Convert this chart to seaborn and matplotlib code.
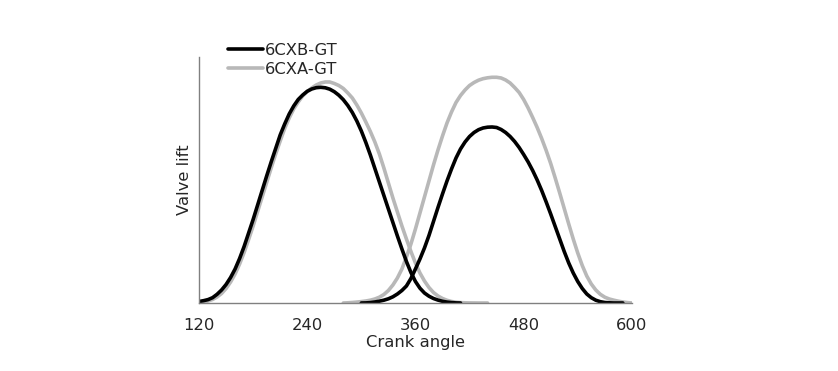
import matplotlib
matplotlib.use("Agg")
import matplotlib.pyplot as plt
from matplotlib.lines import Line2D
import seaborn as sns
import pandas as pd

# ---- data (every 5 degrees) ----
b_exh_angle = list(range(120, 415, 5))
b_exh_lift = [1.5, 2.3, 3.4, 5.3, 8.7, 13, 18.5, 25.5, 34, 44.5, 56.5, 70, 83.5, 98, 112.5, 127, 141,
              154.5, 168, 179, 189, 197, 203.5, 208, 211.7, 214, 215.3, 215.7, 215.2, 213.8, 211.3,
              207.8, 203.3, 197.5, 190.5, 182, 172, 160.5, 148, 134.5, 121, 107.5, 94, 80.5, 67, 54,
              41.5, 30.5, 21.5, 14.8, 10, 6.8, 4.5, 2.9, 1.7, 0.9, 0.4, 0.1, 0]

g_exh_angle = list(range(120, 445, 5))
g_exh_lift = [0.5, 1, 2, 3.5, 6, 9.5, 14.5, 21, 29, 39, 50.5, 63.5, 77, 91.5, 106, 120.5, 135, 149,
              162, 174.5, 185, 194, 201, 207, 211.5, 215, 218, 220, 221, 221, 219.5, 217.5, 214.5,
              210, 205, 198, 190, 181, 171.5, 161, 149, 135, 120, 105, 91, 77, 64, 51.5, 40,
              30, 22, 15.5, 10.5, 7, 4.5, 2.7, 1.5, 0.8, 0.4, 0.2, 0.1, 0.05, 0, 0, 0]

b_int_angle = list(range(300, 595, 5))
b_int_lift = [0, 0.1, 0.4, 1, 1.8, 2.8, 4.2, 6.2, 9, 12.5, 17, 24.5, 34, 44, 55, 67.5, 81.5, 95.5,
              109, 122, 134, 145, 154, 161, 166.5, 170.5, 173.3, 175, 175.8, 176, 175.5, 173.5, 170.5,
              166.5, 161.5, 155.5, 148.5, 141, 132.5, 123, 112.5, 101, 89, 76.5, 64, 51.5, 40, 30,
              21.5, 14.5, 9, 5.3, 2.8, 1.3, 0.5, 0.2, 0, 0, 0]

g_int_angle = list(range(280, 605, 5))
g_int_lift = [0, 0.2, 0.5, 0.9, 1.4, 2, 2.8, 4, 5.8, 8.5, 12.5, 18, 25, 34, 46, 59, 74, 90, 106, 122,
              138, 153, 167, 180, 191, 200.5, 207.5, 213, 217.5, 220.5, 222.8, 224.3, 225.2, 225.7,
              225.7, 225, 223, 220, 215.5, 210.5, 203.5, 195, 185.5, 175.5, 164.5, 152.5, 139.5, 125,
              110, 94.5, 79, 64, 50, 37.5, 27, 19, 13, 8.7, 5.8, 4, 2.8, 1.8, 1, 0.4, 0]

series_names = ["6CXB-GT", "6CXA-GT"]
x_ticks = [120, 240, 360, 480, 600]

frames = []
for name, valve, a, l in [
    (series_names[0], "exh", b_exh_angle, b_exh_lift),
    (series_names[1], "exh", g_exh_angle, g_exh_lift),
    (series_names[0], "int", b_int_angle, b_int_lift),
    (series_names[1], "int", g_int_angle, g_int_lift),
]:
    frames.append(pd.DataFrame({"angle": a, "lift": l, "engine": name, "valve": valve}))
df = pd.concat(frames, ignore_index=True)

sns.set_style("white")
plt.rcParams["font.family"] = ["DejaVu Sans"]

colors = {series_names[0]: "#000000", series_names[1]: "#b8b8b8"}

fig = plt.figure(figsize=(8.38, 3.71), dpi=100)
ax = fig.add_axes([0.2375, 0.1833, 0.5165, 0.6631])

order = [series_names[1], series_names[0]]
for name in order:
    sub = df[df["engine"] == name]
    sns.lineplot(data=sub, x="angle", y="lift", units="valve", estimator=None,
                 color=colors[name], linewidth=2.6, ax=ax, legend=False, sort=False)
for line in ax.get_lines():
    line.set_solid_joinstyle("round")

ax.set_xlim(120, 600)
ax.set_ylim(0, 246)
ax.set_xticks(x_ticks)
ax.set_xticklabels([str(t) for t in x_ticks], fontsize=11.8)
ax.set_yticks([])
ax.tick_params(axis="x", direction="in", length=4, color="#808080", pad=11)
for s in ["top", "right"]:
    ax.spines[s].set_visible(False)
for s in ["left", "bottom"]:
    ax.spines[s].set_color("#808080")
    ax.spines[s].set_linewidth(1.0)

ax.set_xlabel("Crank angle", fontsize=11.8, labelpad=1)
ax.set_ylabel("Valve lift", fontsize=11.8, labelpad=5)

handles = [Line2D([0], [0], color=colors[n], linewidth=2.6) for n in series_names]
fig.legend(handles, series_names, loc="upper left", bbox_to_anchor=(0.2645, 0.902),
           frameon=False, fontsize=11.8, handlelength=2.15, handletextpad=0.1,
           labelspacing=0.22, borderaxespad=0)

fig.savefig("out.png", dpi=100)
